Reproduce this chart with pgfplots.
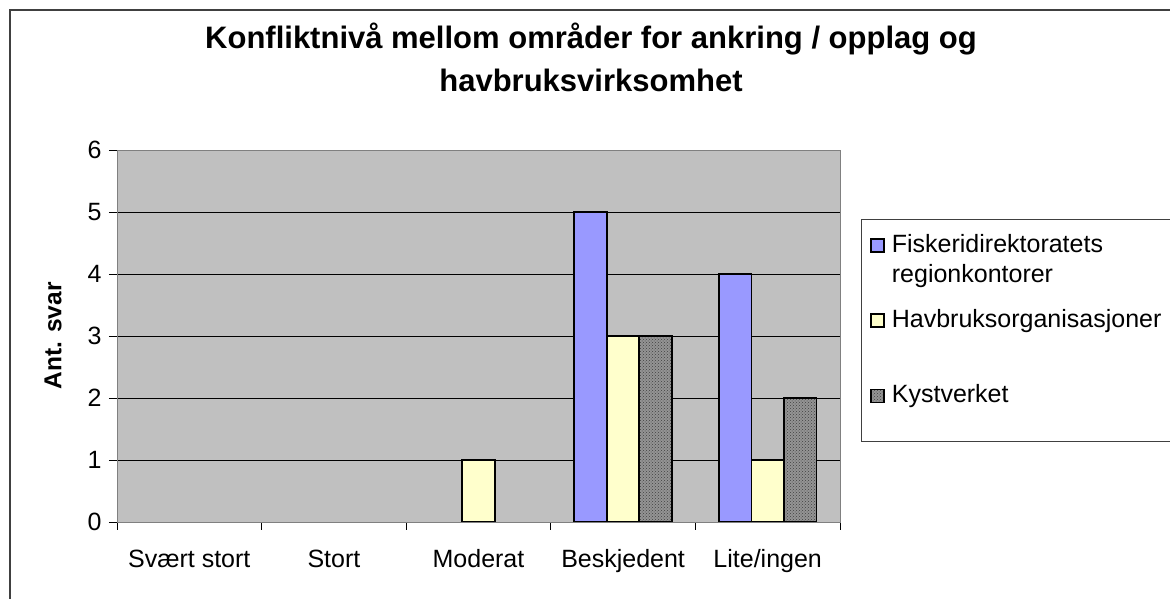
\documentclass[border=0pt]{standalone}
\usepackage{fontspec}
\setmainfont{Liberation Sans}
\usepackage{pgfplots}
\pgfplotsset{compat=1.18}
\usetikzlibrary{patterns}
\definecolor{plotbg}{HTML}{C0C0C0}
\definecolor{fiskblue}{HTML}{9999FF}
\definecolor{havyellow}{HTML}{FFFFCC}
\definecolor{kystgray}{HTML}{949494}
\definecolor{framegray}{HTML}{808080}
\definecolor{outer}{HTML}{404040}
\newcommand{\lf}{\fontsize{25}{30}\selectfont}
\begin{document}
\begin{tikzpicture}[x=1pt,y=1pt]
\useasboundingbox (0,0) rectangle (1170,599);
% outer chart frame (cropped at right and bottom)
\draw[outer, line width=2pt] (10,0) -- (10,588.5) -- (1172,588.5);
% title
\node[anchor=base, font=\bfseries\fontsize{31}{42}\selectfont] at (591,550) {Konfliktnivå mellom områder for ankring / opplag og};
\node[anchor=base, font=\bfseries\fontsize{31}{42}\selectfont] at (591,507) {havbruksvirksomhet};
% legend frame
\draw[outer, line width=1pt] (861,379) rectangle (1185,157);
\begin{axis}[
  at={(117pt,77pt)}, anchor=south west,
  scale only axis, width=723pt, height=372pt,
  xmin=-0.5, xmax=4.5, ymin=0, ymax=6,
  ybar=0pt, bar width=32.5pt,
  axis background/.style={fill=plotbg},
  axis line style={framegray, line width=0.9pt},
  ymajorgrids, major grid style={black, line width=0.9pt},
  ytick={0,1,2,3,4,5,6},
  xtick={-0.5,0.5,1.5,2.5,3.5,4.5}, xticklabels={},
  extra x ticks={0,1,2,3,4},
  extra x tick labels={Svært stort,Stort,Moderat,Beskjedent,Lite/ingen},
  extra x tick style={major tick length=0pt, grid=none,
     tick label style={anchor=base, yshift=-46pt}},
  tick align=outside, major tick length=8pt,
  xtick pos=bottom, ytick pos=left,
  tick style={black, line width=0.9pt},
  ticklabel style={font=\lf},
  yticklabel style={xshift=-4pt},
  /pgf/number format/assume math mode=true,
  ylabel={\textbf{Ant. svar}},
  ylabel style={font=\fontsize{24.5}{29}\selectfont, at={(axis description cs:-0.0885,0.5)}, anchor=center},
  y filter/.expression={y==0 ? nan : y},
  legend image code/.code={\draw[#1, line width=1.5pt] (0pt,0pt) rectangle (13pt,13pt);},
  legend style={at={(axis description cs:1.042,0.7796)}, anchor=north west,
     draw=none, fill=none, inner sep=0pt, outer sep=0pt,
     row sep=51.5pt, column sep=5pt, font=\lf,
     nodes={inner sep=2pt}, cells={anchor=base west}},
]
\addplot[draw=black, line width=1.8pt, fill=fiskblue] coordinates {(0,0) (1,0) (2,0) (3,5) (4,4)};
\addlegendentry{\parbox[t]{280pt}{\raggedright\lf Fiskeridirektoratets\par regionkontorer}}
\addplot[draw=black, line width=1.8pt, fill=havyellow] coordinates {(0,0) (1,0) (2,1) (3,3) (4,1)};
\addlegendentry{Havbruksorganisasjoner}
\addplot[draw=black, line width=1.8pt, fill=kystgray, postaction={pattern=crosshatch dots, pattern color=black!75}] coordinates {(0,0) (1,0) (2,0) (3,3) (4,2)};
\addlegendentry{Kystverket}
\draw[black, line width=0.9pt] (rel axis cs:0,0) -- (rel axis cs:1,0);
\end{axis}
\end{tikzpicture}
\end{document}
